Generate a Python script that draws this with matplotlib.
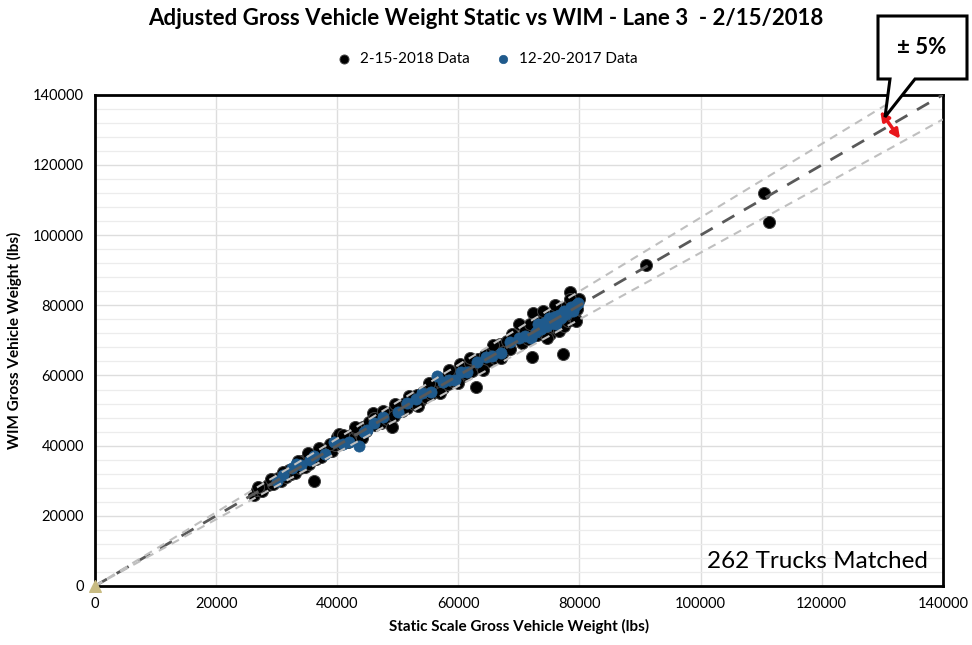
import matplotlib.pyplot as plt
from matplotlib.patches import Polygon
from matplotlib.ticker import MultipleLocator

plt.rcParams['font.family'] = ['Lato', 'DejaVu Sans']

# 2-15-2018 data (static, wim) in lbs
static_2018 = [26300, 26800, 27500, 28500, 29400, 30200, 30800, 31500, 32000, 32400,
               33000, 33300, 33800, 34200, 34600, 35000, 35400, 35800, 36150, 36500,
               36900, 37400, 37800, 38500, 39200, 39600, 40000, 40300, 40700, 41200,
               41700, 42300, 42800, 43300, 43800, 44300, 44800, 45300, 45900, 46200,
               46700, 47200, 47800, 48300, 48800, 49000, 49300, 50200, 50700, 51200,
               51600, 52100, 52600, 53100, 53600, 54100, 54500, 55000, 55500, 56000,
               56400, 56900, 57400, 57800, 58300, 58800, 59200, 59700, 60200, 60500,
               61000, 61400, 61900, 62300, 62900, 63300, 63800, 64400, 64900, 65500,
               66100, 66800, 67400, 68000, 68600, 69200, 70000, 70500, 71000, 71500,
               72150, 72300, 72600, 73000, 73400, 73800, 74200, 74500, 74900, 75200,
               75500, 75800, 76100, 76400, 76700, 77000, 77260, 77500, 77800, 78100,
               78400, 78700, 79000, 79300, 79600, 80000, 90970, 110450, 111270,
               27000, 29000, 31000, 33600, 35200, 37000, 38800, 40900, 43000, 44100,
               46000, 47500, 49500, 51900, 53300, 55200, 57000, 58500, 60000, 62000,
               64000, 65800, 67000, 68800, 71800, 74000, 76000, 78500, 79500, 74700]
wim_2018 = [25800, 27400, 27000, 28900, 29100, 30800, 29900, 31200, 33000, 31800,
            32300, 34200, 33500, 35600, 33900, 36300, 34800, 37400, 29900, 36200,
            37900, 36800, 38300, 38900, 38500, 40200, 42600, 43400, 40600, 41800,
            40900, 43000, 42100, 44500, 43300, 45400, 44100, 46700, 49300, 45900,
            47300, 46400, 48700, 47600, 49600, 45300, 48400, 50900, 49800, 52100,
            50600, 53000, 51800, 54300, 52700, 55400, 53800, 56200, 54600, 57300,
            55800, 58200, 56500, 59300, 57600, 60100, 58400, 61000, 63200, 59600,
            62500, 60300, 63600, 61400, 56700, 64800, 62700, 65900, 64000, 67100,
            65000, 68900, 66600, 69800, 67500, 71300, 74700, 69200, 72600, 70300,
            65300, 77800, 73900, 71600, 75200, 72500, 76000, 73000, 77200, 71800,
            74300, 78000, 73600, 75800, 72800, 77400, 66150, 74200, 79600, 75400,
            83800, 77000, 80800, 76400, 79000, 81900, 91530, 112060, 103790,
            28300, 30500, 32600, 35500, 37800, 39300, 40400, 42900, 45300, 42300,
            47900, 49900, 51800, 54200, 51200, 57900, 55000, 61500, 57800, 64900,
            61700, 68600, 64900, 71900, 74600, 78300, 80200, 81700, 75600, 70800]

# 12-20-2017 data (static, wim) in lbs
static_2017 = [30000, 31000, 32500, 33200, 34000, 35500, 36200, 38000, 39500, 41000,
               42000, 43590, 44500, 45000, 46000, 47500, 50000, 51500, 53000, 54000,
               55500, 56460, 57500, 58500, 59500, 60500, 61500, 63000, 64500, 65500,
               67000, 68500, 70000, 71000, 72000, 72800, 73200, 73700, 74100, 74600,
               75000, 75400, 75800, 76200, 76600, 77000, 77400, 77800, 78200, 78600,
               79000, 79400, 79800]
wim_2017 = [29800, 31500, 33700, 34800, 34400, 35900, 37000, 37600, 40900, 40400,
            41000, 39920, 43800, 44400, 46400, 48200, 49500, 52100, 53400, 55000,
            55400, 59880, 58000, 58700, 58600, 60900, 61000, 63800, 65200, 65600,
            66400, 69600, 70800, 71300, 70800, 72400, 74600, 73300, 74900, 74100,
            76500, 75100, 76700, 74800, 77100, 76400, 78300, 77400, 78800, 79400,
            78500, 80200, 80600]

line_x = [0, 140000]
band = [0.95, 1.0, 1.05]

fig = plt.figure(figsize=(9.72, 6.45), dpi=100)
ax = fig.add_axes([0.0977, 0.0915, 0.8723, 0.7615])

ax.scatter(static_2018, wim_2018, s=75, color='black', edgecolors='#404040',
           linewidths=0.7, zorder=3, label='2-15-2018 Data')
ax.scatter(static_2017, wim_2017, s=65, color='#1f5a8c', edgecolors='#1f5a8c',
           linewidths=0.5, zorder=4, label='12-20-2017 Data')
ax.scatter([0], [0], marker='^', s=70, color='#c8bb82', zorder=6, clip_on=False)

# 1:1 line and +/-5% band
ax.plot(line_x, [v * band[1] for v in line_x], color='#595959', lw=2, ls=(0, (5, 4)), zorder=5)
ax.plot(line_x, [v * band[0] for v in line_x], color='#bfbfbf', lw=1.5, ls=(0, (4, 3)), zorder=5)
ax.plot(line_x, [v * band[2] for v in line_x], color='#bfbfbf', lw=1.5, ls=(0, (4, 3)), zorder=5)

ax.set_xlim(0, 140000)
ax.set_ylim(0, 140000)
ax.xaxis.set_major_locator(MultipleLocator(20000))
ax.yaxis.set_major_locator(MultipleLocator(20000))
ax.yaxis.set_minor_locator(MultipleLocator(4000))
ax.grid(True, which='major', color='#dddddd', lw=1, zorder=0)
ax.grid(True, which='minor', axis='y', color='#ececec', lw=0.9, zorder=0)
ax.set_axisbelow(True)
ax.tick_params(which='both', length=0, labelsize=10.5, pad=8)
for s in ax.spines.values():
    s.set_linewidth(2)
    s.set_color('black')

ax.set_xlabel('Static Scale Gross Vehicle Weight (lbs)', fontsize=11, fontweight='bold', labelpad=6)
ax.set_ylabel('WIM Gross Vehicle Weight (lbs)', fontsize=11, fontweight='bold', labelpad=8)

ax.text(0.982, 0.028, '262 Trucks Matched', transform=ax.transAxes, ha='right',
        va='bottom', fontsize=17.5)

fig.suptitle('Adjusted Gross Vehicle Weight Static vs WIM - Lane 3  - 2/15/2018',
             x=0.50, y=0.988, fontsize=16, fontweight='bold')
fig.legend(loc='center', bbox_to_anchor=(0.497, 0.908), ncol=2, frameon=False,
           fontsize=11, handletextpad=0.05, columnspacing=1.2, markerscale=0.75)

# red double arrow across the band
ax.annotate('', xy=(133200, 126800), xytext=(129400, 136000),
            arrowprops=dict(arrowstyle='<|-|>', color='#e8161b', lw=2.5,
                            mutation_scale=13), zorder=7)

# callout box "± 5%"
W, H = 972, 645
pts = [(878, 16), (967, 16), (967, 79), (915, 79), (885, 117), (890, 79), (878, 79)]
poly = Polygon([(x / W, 1 - y / H) for x, y in pts], closed=True, transform=fig.transFigure,
               facecolor='white', edgecolor='black', lw=2.2, zorder=10)
fig.patches.append(poly)
fig.text(922 / W, 1 - 48 / H, '± 5%', ha='center', va='center', fontsize=16,
         fontweight='bold', zorder=11)

fig.savefig('out.png', dpi=100)
